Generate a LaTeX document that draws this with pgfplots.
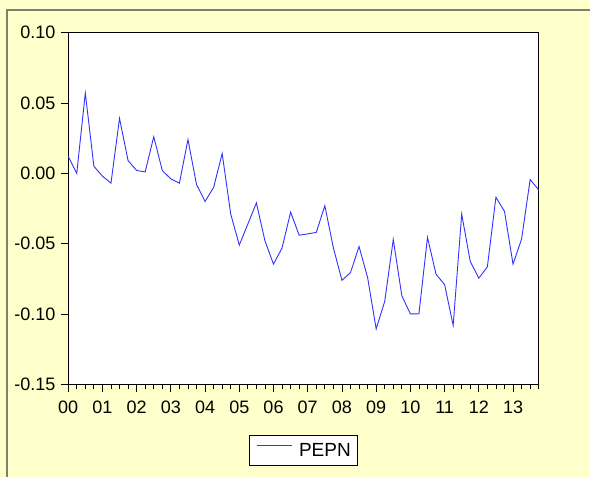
\documentclass[border=0pt]{standalone}
\usepackage{pgfplots}
\pgfplotsset{compat=1.18}
\usepackage{fontspec}
\setmainfont{Liberation Sans}
\definecolor{bgyellow}{RGB}{255,255,204}
\definecolor{framegray}{RGB}{128,128,112}
\definecolor{lineblue}{RGB}{50,50,255}
\begin{document}
\begin{tikzpicture}[x=1pt,y=1pt]
\path[use as bounding box] (0,0) rectangle (590,-477);
\fill[bgyellow] (0,0) rectangle (590,-477);
\draw[framegray, line width=2pt] (7,-478) -- (7,-10) -- (591,-10);
\begin{axis}[
  at={(68.2pt,-32.5pt)}, anchor=north west,
  scale only axis, width=470.5pt, height=352pt,
  xmin=0, xmax=55, ymin=-0.15, ymax=0.10,
  axis background/.style={fill=white},
  axis line style={line width=1.3pt, black},
  tick align=outside, xtick pos=bottom, ytick pos=left,
  major tick length=7.5pt, minor tick length=4pt,
  every tick/.style={black, line width=0.8pt},
  xtick={0,4,8,12,16,20,24,28,32,36,40,44,48,52},
  xticklabels={00,01,02,03,04,05,06,07,08,09,10,11,12,13},
  minor xtick={1,2,3,5,6,7,9,10,11,13,14,15,17,18,19,21,22,23,25,26,27,29,30,31,33,34,35,37,38,39,41,42,43,45,46,47,49,50,51,53,54,55},
  ytick={-0.15,-0.10,-0.05,0,0.05,0.10},
  yticklabels={-0.15,-0.10,-0.05,0.00,0.05,0.10},
  ticklabel style={font=\fontsize{18}{21}\selectfont, inner sep=0pt},
  yticklabel style={anchor=east, xshift=-5pt},
  xticklabel style={anchor=north, yshift=-9pt},
  legend style={at={(0.5,-0.1875)}, anchor=center, draw=black, line width=0.6pt,
    font=\fontsize{19}{22}\selectfont, fill=white,
    inner xsep=7pt, inner ysep=8pt, nodes={inner sep=0pt}},
  legend image code/.code={\draw[#1] (0pt,5pt) -- (35pt,5pt); \path (42pt,5pt);},
]
\addplot[lineblue, line width=0.9pt] coordinates {
(0,0.012) (1,0.000) (2,0.057) (3,0.005) (4,-0.002) (5,-0.007) (6,0.039) (7,0.009)
(8,0.002) (9,0.001) (10,0.026) (11,0.002) (12,-0.004) (13,-0.007) (14,0.024) (15,-0.008)
(16,-0.020) (17,-0.010) (18,0.014) (19,-0.029) (20,-0.051) (21,-0.036) (22,-0.021) (23,-0.048)
(24,-0.0645) (25,-0.053) (26,-0.0276) (27,-0.044) (28,-0.043) (29,-0.042) (30,-0.023) (31,-0.053)
(32,-0.076) (33,-0.0705) (34,-0.052) (35,-0.074) (36,-0.1105) (37,-0.091) (38,-0.047) (39,-0.087)
(40,-0.0998) (41,-0.0998) (42,-0.0455) (43,-0.0717) (44,-0.079) (45,-0.108) (46,-0.029) (47,-0.0626)
(48,-0.0745) (49,-0.0664) (50,-0.017) (51,-0.027) (52,-0.0645) (53,-0.0467) (54,-0.0045) (55,-0.0117)
};
\addlegendentry{PEPN}
\end{axis}
\end{tikzpicture}
\end{document}
